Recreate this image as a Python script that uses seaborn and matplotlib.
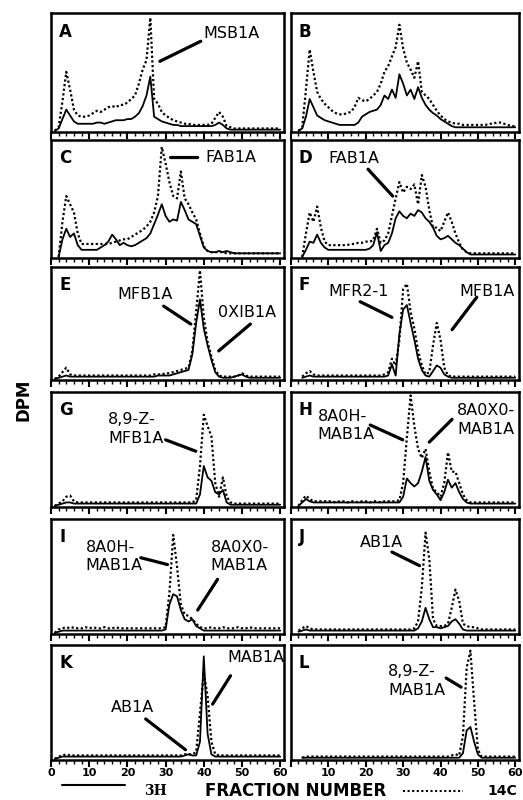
import numpy as np
import pandas as pd
import matplotlib
matplotlib.use('Agg')
import matplotlib.pyplot as plt
from matplotlib.lines import Line2D
import seaborn as sns

nan = None
fractions = list(range(61))
panel_letters = ['A', 'B', 'C', 'D', 'E', 'F', 'G', 'H', 'I', 'J', 'K', 'L']
xtick_values = [0, 10, 20, 30, 40, 50, 60]
xtick_labels_left = ['0', '10', '20', '30', '40', '50', '60']
xtick_labels_right = ['', '10', '20', '30', '40', '50', '60']

# DPM (percent of panel height) per fraction; solid = 3H, dotted = 14C
A_3H = [nan, 0, 2, 10, 18, 13, 8, 6, 6, 6,
        6, 6, 7, 7, 6, 7, 8, 9, 9, 9,
        10, 10, 12, 15, 21, 30, 46, 12, 10, 8,
        7, 6, 5, 5, 4, 4, 4, 4, 4, 4,
        4, 4, 4, 5, 7, 5, 2, 1, 1, 1,
        1, 1, 1, 1, 1, 1, 1, 1, 1, 1,
        1]
A_14C = [nan, 0, 3, 25, 50, 35, 18, 13, 12, 12,
         13, 15, 17, 16, 18, 20, 21, 20, 22, 22,
         24, 27, 30, 40, 52, 60, 96, 27, 23, 16,
         13, 11, 9, 8, 7, 6, 6, 5, 5, 5,
         5, 5, 6, 11, 16, 12, 4, 3, 2, 2,
         2, 2, 2, 2, 2, 2, 2, 2, 2, 2,
         2]
B_3H = [nan, nan, 0, 2, 12, 27, 20, 13, 11, 9,
        8, 7, 6, 5, 5, 5, 5, 5, 7, 12,
        14, 16, 17, 18, 22, 30, 27, 35, 28, 48,
        40, 30, 35, 27, 37, 28, 22, 18, 15, 13,
        10, 8, 6, 4, 3, 3, 3, 3, 3, 3,
        3, 3, 3, 3, 3, 3, 3, 3, 3, 3,
        3]
B_14C = [nan, nan, 0, 3, 35, 69, 50, 33, 27, 23,
         20, 17, 15, 14, 14, 15, 16, 20, 28, 26,
         25, 27, 30, 33, 40, 50, 55, 63, 71, 90,
         70, 58, 52, 45, 59, 33, 30, 27, 22, 17,
         13, 10, 8, 7, 6, 6, 5, 5, 5, 5,
         5, 5, 5, 6, 6, 7, 7, 6, 5, 4,
         4]
C_3H = [nan, nan, 0, 15, 24, 17, 20, 10, 6, 6,
        6, 6, 6, 8, 10, 13, 19, 15, 10, 12,
        10, 9, 10, 12, 14, 16, 20, 28, 36, 45,
        35, 30, 32, 31, 47, 40, 32, 30, 28, 18,
        8, 5, 4, 4, 5, 4, 5, 4, 3, 3,
        3, 3, 3, 3, 3, 3, 3, 3, 3, 3,
        3]
C_14C = [nan, nan, 0, 30, 52, 45, 38, 20, 11, 11,
         11, 11, 11, 11, 11, 11, 12, 13, 14, 15,
         15, 17, 19, 21, 23, 26, 30, 38, 52, 94,
         80, 64, 52, 50, 73, 50, 45, 38, 32, 20,
         9, 5, 4, 4, 4, 4, 3, 3, 3, 3,
         3, 3, 3, 3, 3, 3, 3, 3, 3, 3,
         3]
D_3H = [nan, nan, nan, 0, 6, 13, 12, 19, 12, 8,
        6, 6, 6, 6, 6, 6, 6, 6, 6, 6,
        6, 7, 10, 21, 5, 10, 12, 20, 33, 39,
        35, 33, 37, 35, 40, 38, 33, 30, 25, 18,
        15, 16, 18, 15, 12, 10, 7, 4, 2, 2,
        2, 2, 2, 2, 2, 2, 2, 2, 2, 2,
        2]
D_14C = [nan, nan, nan, 0, 20, 38, 30, 43, 25, 13,
         10, 10, 10, 10, 10, 10, 11, 11, 12, 12,
         13, 13, 14, 24, 12, 14, 20, 35, 50, 64,
         55, 60, 58, 62, 45, 70, 60, 40, 25, 25,
         22, 30, 38, 30, 20, 12, 6, 4, 3, 3,
         3, 3, 3, 3, 3, 3, 3, 3, 3, 3,
         3]
E_3H = [nan, 0, 1, 2, 3, 2, 2, 2, 2, 2,
        2, 2, 2, 2, 2, 2, 2, 2, 2, 2,
        2, 2, 2, 2, 2, 2, 2, 2, 3, 3,
        3, 3, 4, 5, 6, 7, 8, 22, 50, 71,
        45, 30, 17, 6, 2, 1, 1, 1, 2, 3,
        4, 2, 1, 1, 1, 1, 1, 1, 1, 1,
        1]
E_14C = [nan, 0, 2, 6, 10, 4, 3, 3, 3, 3,
         3, 3, 3, 3, 3, 3, 3, 3, 3, 3,
         3, 3, 3, 3, 3, 3, 3, 4, 4, 4,
         5, 5, 6, 7, 8, 9, 10, 25, 60, 97,
         55, 33, 20, 8, 3, 2, 2, 2, 2, 3,
         5, 3, 2, 2, 2, 2, 2, 2, 2, 2,
         2]
F_3H = [nan, nan, nan, 1, 2, 3, 2, 2, 2, 2,
        2, 2, 2, 2, 2, 2, 2, 2, 2, 2,
        2, 2, 2, 2, 2, 2, 3, 13, 3, 40,
        62, 66, 50, 35, 18, 8, 3, 2, 7, 12,
        10, 4, 2, 1, 1, 1, 1, 1, 1, 1,
        1, 1, 1, 1, 1, 1, 1, 1, 1, 1,
        1]
F_14C = [nan, nan, nan, 2, 5, 7, 4, 3, 3, 3,
         3, 3, 3, 3, 3, 3, 3, 3, 3, 3,
         3, 3, 3, 3, 3, 4, 6, 18, 12, 35,
         80, 85, 60, 45, 25, 12, 4, 6, 30, 50,
         35, 10, 3, 2, 2, 2, 2, 2, 2, 2,
         2, 2, 2, 2, 2, 2, 2, 2, 2, 2,
         2]
G_3H = [nan, 0, 1, 2, 3, 3, 2, 2, 2, 2,
        2, 2, 2, 2, 2, 2, 2, 2, 2, 2,
        2, 2, 2, 2, 2, 2, 2, 2, 2, 2,
        2, 2, 2, 2, 2, 2, 2, 2, 2, 10,
        35, 25, 22, 12, 10, 14, 3, 1, 1, 1,
        1, 1, 1, 1, 1, 1, 1, 1, 1, 1,
        1]
G_14C = [nan, 0, 2, 4, 8, 9, 4, 3, 3, 3,
         3, 3, 3, 3, 3, 3, 3, 3, 3, 3,
         3, 3, 3, 3, 3, 3, 3, 3, 3, 3,
         3, 3, 3, 3, 3, 3, 3, 3, 5, 35,
         80, 70, 61, 20, 8, 25, 8, 3, 2, 2,
         2, 2, 2, 2, 2, 2, 2, 2, 2, 2,
         2]
H_3H = [nan, nan, 0, 3, 6, 4, 3, 3, 3, 3,
        3, 3, 3, 3, 3, 3, 3, 3, 3, 3,
        3, 3, 3, 3, 3, 3, 3, 3, 3, 3,
        8, 24, 20, 17, 20, 30, 43, 22, 14, 10,
        5, 12, 23, 16, 20, 12, 6, 3, 2, 2,
        2, 2, 2, 2, 2, 2, 2, 2, 2, 2,
        2]
H_14C = [nan, nan, 0, 5, 9, 6, 4, 4, 4, 4,
         4, 4, 3, 4, 4, 3, 4, 4, 3, 4,
         4, 3, 4, 4, 3, 4, 4, 4, 4, 5,
         20, 60, 97, 70, 50, 42, 50, 30, 15, 12,
         8, 20, 47, 30, 30, 20, 10, 5, 3, 3,
         3, 3, 3, 3, 3, 3, 3, 3, 3, 3,
         3]
I_3H = [nan, 0, 1, 2, 2, 2, 2, 2, 2, 2,
        2, 2, 2, 2, 2, 2, 2, 2, 2, 2,
        2, 2, 2, 2, 2, 2, 2, 2, 2, 2,
        3, 25, 34, 32, 20, 12, 10, 12, 6, 4,
        2, 2, 2, 2, 2, 2, 2, 2, 2, 2,
        2, 2, 2, 2, 2, 2, 2, 2, 2, 2,
        2]
I_14C = [nan, 0, 3, 4, 5, 4, 5, 4, 4, 5,
         4, 5, 4, 4, 5, 4, 4, 5, 4, 4,
         4, 4, 4, 4, 4, 4, 4, 4, 4, 4,
         5, 35, 86, 58, 25, 16, 15, 12, 8, 5,
         4, 4, 5, 4, 4, 5, 4, 4, 4, 5,
         4, 4, 5, 4, 4, 4, 4, 4, 4, 4,
         4]
J_3H = [nan, nan, 1, 2, 3, 2, 2, 2, 2, 2,
        2, 2, 2, 2, 2, 2, 2, 2, 2, 2,
        2, 2, 2, 2, 2, 2, 2, 2, 2, 2,
        2, 2, 2, 2, 4, 10, 22, 12, 5, 5,
        4, 5, 6, 10, 12, 8, 3, 2, 2, 2,
        2, 2, 2, 2, 2, 2, 2, 2, 2, 2,
        2]
J_14C = [nan, nan, 2, 4, 6, 4, 3, 3, 3, 3,
         3, 3, 3, 3, 3, 3, 3, 3, 3, 3,
         3, 3, 3, 3, 3, 3, 3, 3, 3, 3,
         3, 3, 3, 4, 10, 40, 88, 65, 12, 6,
         6, 6, 8, 22, 38, 28, 8, 6, 5, 5,
         4, 3, 3, 3, 3, 3, 3, 3, 3, 3,
         3]
K_3H = [nan, 0, 1, 2, 2, 2, 2, 2, 2, 2,
        2, 2, 2, 2, 2, 2, 2, 2, 2, 2,
        2, 2, 2, 2, 2, 2, 2, 2, 2, 2,
        2, 2, 2, 2, 2, 3, 4, 3, 3, 15,
        90, 22, 4, 2, 2, 2, 2, 2, 2, 2,
        2, 2, 2, 2, 2, 2, 2, 2, 2, 2,
        2]
K_14C = [nan, 0, 2, 3, 4, 3, 3, 3, 3, 3,
         3, 3, 3, 3, 3, 3, 3, 3, 3, 3,
         3, 3, 3, 3, 3, 3, 3, 3, 3, 3,
         3, 3, 3, 3, 3, 4, 4, 4, 6, 40,
         76, 55, 15, 4, 3, 3, 3, 3, 3, 3,
         3, 3, 3, 3, 3, 3, 3, 3, 3, 3,
         3]
L_3H = [nan, nan, nan, 1, 1, 1, 1, 1, 1, 1,
        1, 1, 1, 1, 1, 1, 1, 1, 1, 1,
        1, 1, 1, 1, 1, 1, 1, 1, 1, 1,
        1, 1, 1, 1, 1, 1, 1, 1, 1, 1,
        1, 1, 1, 1, 1, 1, 5, 25, 28, 15,
        4, 1, 1, 1, 1, 1, 1, 1, 1, 1,
        1]
L_14C = [nan, nan, nan, 1, 2, 2, 2, 2, 2, 2,
         2, 2, 2, 2, 2, 2, 2, 2, 2, 2,
         2, 2, 2, 2, 2, 2, 2, 2, 2, 2,
         2, 2, 2, 2, 2, 2, 2, 2, 2, 2,
         2, 2, 2, 3, 4, 3, 20, 80, 95, 50,
         8, 2, 2, 2, 2, 2, 2, 2, 2, 2,
         2]

series_3H = [A_3H, B_3H, C_3H, D_3H, E_3H, F_3H, G_3H, H_3H, I_3H, J_3H, K_3H, L_3H]
series_14C = [A_14C, B_14C, C_14C, D_14C, E_14C, F_14C, G_14C, H_14C, I_14C, J_14C, K_14C, L_14C]
for s in series_3H + series_14C:
    assert len(s) == 61, len(s)

# annotations: (text, text_x, text_y, line_start, line_end)
annotations = {
    'A': [('MSB1A', 39.9, 83, (39.2, 76), (28.5, 59))],
    'C': [('FAB1A', 40.5, 85, (31.3, 85), (38.4, 85))],
    'D': [('FAB1A', 10.0, 84, (20.6, 75), (27.2, 52))],
    'E': [('MFB1A', 17.5, 75, (29.5, 65), (36.6, 49)),
          ('0XIB1A', 43.6, 59, (52.2, 49), (43.9, 25))],
    'F': [('MFR2-1', 10.0, 78, (18.5, 69), (27.0, 55)),
          ('MFB1A', 45.0, 78, (49.7, 73), (43.1, 44))],
    'G': [('8,9-Z-\nMFB1A', 14.9, 67.5, (30.0, 58), (37.9, 48))],
    'H': [('8A0H-\nMAB1A', 7.1, 70.5, (21.2, 71), (29.9, 58)),
          ('8A0X0-\nMAB1A', 44.4, 75.5, (43.1, 76), (37.0, 56))],
    'I': [('8A0H-\nMAB1A', 9.1, 67, (23.5, 66), (30.5, 60)),
          ('8A0X0-\nMAB1A', 41.8, 67, (43.6, 47), (38.4, 20))],
    'J': [('AB1A', 18.5, 79, (27.0, 71), (34.4, 59))],
    'K': [('AB1A', 15.7, 45, (24.8, 35), (35.2, 8)),
          ('MAB1A', 46.2, 89, (47.0, 73), (42.3, 48))],
    'L': [('8,9-Z-\nMAB1A', 26.0, 68.5, (41.5, 71), (45.5, 63))],
}

sns.set_theme(style='white')
plt.rcParams['font.family'] = ['DejaVu Sans']
plt.rcParams['text.color'] = 'black'
plt.rcParams['xtick.color'] = 'black'
plt.rcParams['xtick.labelcolor'] = 'black'
plt.rcParams['xtick.bottom'] = True
plt.rcParams['xtick.major.size'] = 5
plt.rcParams['xtick.minor.size'] = 3

W, H = 523, 800
fig = plt.figure(figsize=(W / 100, H / 100), dpi=100)
fig.patch.set_facecolor('white')

col_x = [(51, 284), (291, 519)]
row_y = [(13, 132), (140, 258), (267, 380), (392, 507), (519, 634), (645, 760)]

for i, letter in enumerate(panel_letters):
    r, c = divmod(i, 2)
    x0, x1 = col_x[c]
    t, b = row_y[r]
    ax = fig.add_axes([x0 / W, 1 - b / H, (x1 - x0) / W, (b - t) / H])
    df = pd.DataFrame({'fraction': fractions,
                       'h3': np.array(series_3H[i], dtype=float),
                       'c14': np.array(series_14C[i], dtype=float)})
    sns.lineplot(data=df, x='fraction', y='c14', ax=ax, color='black',
                 linewidth=1.6, linestyle=(0, (1.0, 1.1)))
    sns.lineplot(data=df, x='fraction', y='h3', ax=ax, color='black',
                 linewidth=1.3)
    ax.set_xlim(0, 61)
    ax.set_ylim(-1, 100)
    ax.set_xlabel('')
    ax.set_ylabel('')
    ax.set_yticks([])
    ax.xaxis.set_ticks_position('bottom')
    ax.set_xticks(xtick_values)
    ax.set_xticks(list(range(0, 61, 2)), minor=True)
    if r == 5:
        ax.set_xticklabels(xtick_labels_left if c == 0 else xtick_labels_right,
                           fontsize=8, fontweight='bold', color='black')
    else:
        ax.set_xticklabels([])
    ax.tick_params(axis='x', which='major', direction='out', length=5, width=1.5,
                   bottom=True, top=False, pad=0.5, color='black')
    ax.tick_params(axis='x', which='minor', direction='out', length=3, width=1.0,
                   bottom=True, top=False, color='black')
    for sp in ax.spines.values():
        sp.set_visible(True)
        sp.set_color('black')
        sp.set_linewidth(1.8)
    ax.set_facecolor('white')
    ax.text(0.035, 0.92, letter, transform=ax.transAxes, fontsize=12,
            fontweight='bold', ha='left', va='top', color='black')
    for (txt, tx, ty, p0, p1) in annotations.get(letter, []):
        ax.text(tx, ty, txt, fontsize=11.5, ha='left', va='center',
                linespacing=1.3, color='black')
        ax.annotate('', xy=p1, xytext=p0,
                    arrowprops=dict(arrowstyle='-', lw=2.3, color='black',
                                    shrinkA=0, shrinkB=0))

fig.text(23 / W, 1 - 400 / H, 'DPM', rotation=90, fontsize=12,
         fontweight='bold', ha='center', va='center', color='black')

fig.add_artist(Line2D([62 / W, 125 / W], [1 - 785 / H, 1 - 785 / H],
                      color='black', lw=1.5))
fig.text(155 / W, 1 - 795 / H, '3H', fontsize=10, fontweight='bold',
         family='DejaVu Serif', ha='center', va='baseline', color='black')
fig.text(296 / W, 1 - 796 / H, 'FRACTION NUMBER', fontsize=12,
         fontweight='bold', ha='center', va='baseline', color='black')
fig.add_artist(Line2D([403 / W, 463 / W], [1 - 791 / H, 1 - 791 / H],
                      color='black', lw=1.5, linestyle=(0, (1.0, 1.2))))
fig.text(502 / W, 1 - 795 / H, '14C', fontsize=10, fontweight='bold',
         ha='center', va='baseline', color='black')

fig.savefig('out.png', dpi=100)
